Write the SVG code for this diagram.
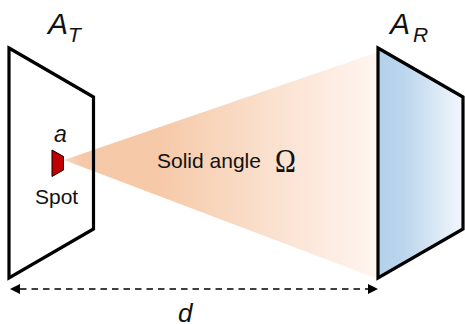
<svg xmlns="http://www.w3.org/2000/svg" width="465" height="324" viewBox="0 0 465 324">
<style>
text{font-family:"Liberation Sans",Arial,sans-serif;fill:#111}
.i{font-style:italic}
.p{stroke:#000;stroke-width:3.2;stroke-linejoin:miter}
</style>
<defs>
<linearGradient id="cone" gradientUnits="userSpaceOnUse" x1="64" y1="0" x2="378" y2="0">
<stop offset="0" stop-color="#f8d8c2"/><stop offset="0.06" stop-color="#f5c8a8"/><stop offset="0.3" stop-color="#f6c9a8"/><stop offset="0.65" stop-color="#fae0ce"/><stop offset="1" stop-color="#fff5f0"/>
</linearGradient>
<linearGradient id="blue" gradientUnits="userSpaceOnUse" x1="378" y1="0" x2="463" y2="0">
<stop offset="0" stop-color="#b3d1ea"/><stop offset="0.3" stop-color="#bbd6ec"/><stop offset="1" stop-color="#f3f7fd"/>
</linearGradient>
</defs>
<g id="cone-beam"><path d="M64 160L378 52V279Z" fill="url(#cone)"/></g>
<g id="transmitter"><path class="p" d="M9 48L93.500 97V229L9 278Z" fill="none"/></g>
<g id="receiver"><path class="p" d="M378 48L463 97V229L378 278Z" fill="url(#blue)"/></g>
<g id="spot"><path d="M52 150L63.500 156.500V170L52 176.500Z" fill="#c00000" stroke="#000" stroke-width="1"/></g>
<g id="connectors"><path d="M20 289H368" fill="none" stroke="#000" stroke-width="1.700" stroke-dasharray="6.500 5"/><path d="M10 289L20 284V294Z"/><path d="M378 289L368 284V294Z"/></g>
<g id="labels">
<text class="i" x="48" y="34" font-size="30">A</text><text class="i" x="68" y="42" font-size="21">T</text>
<text class="i" x="390" y="34" font-size="30">A</text><text class="i" x="413" y="42" font-size="21">R</text>
<text class="i" x="54" y="142" font-size="23">a</text>
<text x="35" y="204" font-size="21">Spot</text>
<text x="157" y="168" font-size="21">Solid angle</text>
<text transform="translate(275 172) scale(.85 1)" font-size="33" style="font-family:'Liberation Serif',serif">Ω</text>
<text class="i" x="178" y="322" font-size="26">d</text>
</g>
</svg>
